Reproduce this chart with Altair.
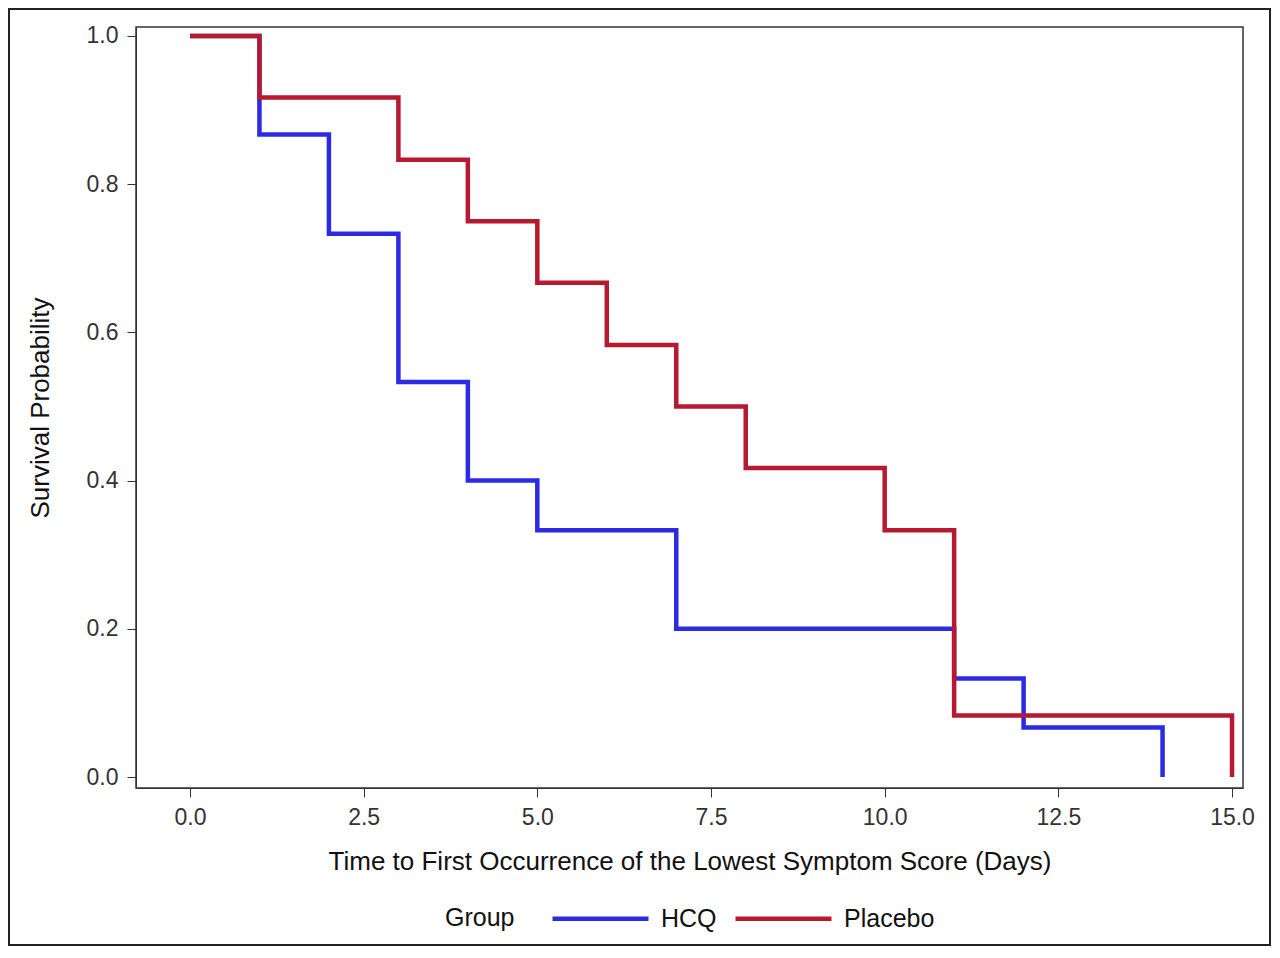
import altair as alt
import pandas as pd

# Kaplan-Meier step data
hcq_time = [0, 1, 2, 3, 4, 5, 7, 11, 12, 14]
hcq_surv = [1.0, 0.867, 0.733, 0.533, 0.4, 0.333, 0.2, 0.133, 0.067, 0.0]
pla_time = [0, 1, 3, 4, 5, 6, 7, 8, 10, 11, 15]
pla_surv = [1.0, 0.917, 0.833, 0.75, 0.667, 0.583, 0.5, 0.417, 0.333, 0.083, 0.0]
groups = ["HCQ", "Placebo"]
colors = ["#2B2BE3", "#B71A2E"]
x_ticks = [0, 2.5, 5, 7.5, 10, 12.5, 15]
y_ticks = [0, 0.2, 0.4, 0.6, 0.8, 1.0]

rows = [{"t": t, "s": s, "Group": "HCQ", "o": i} for i, (t, s) in enumerate(zip(hcq_time, hcq_surv))]
rows += [{"t": t, "s": s, "Group": "Placebo", "o": i} for i, (t, s) in enumerate(zip(pla_time, pla_surv))]
df = pd.DataFrame(rows)

W, H = 1107, 761
PL, PT, PR, PB = 128, 19, 28, 158
FONT = "Liberation Sans"

lines = alt.Chart(df).mark_line(
    interpolate="step-after", strokeWidth=4.5, strokeCap="butt", strokeJoin="miter"
).encode(
    x=alt.X("t:Q", scale=alt.Scale(domain=[-0.777, 15.158], nice=False, zero=False),
            axis=alt.Axis(values=x_ticks, format=".1f",
                          title="Time to First Occurrence of the Lowest Symptom Score (Days)")),
    y=alt.Y("s:Q", scale=alt.Scale(domain=[-0.0148, 1.012], nice=False, zero=False),
            axis=alt.Axis(values=y_ticks, format=".1f", title="Survival Probability")),
    color=alt.Color("Group:N", scale=alt.Scale(domain=groups, range=colors),
                    legend=alt.Legend(orient="none", legendX=309, legendY=841,
                                      direction="horizontal", titleOrient="left",
                                      titleAnchor="middle", titleBaseline="line-top",
                                      titleLineHeight=38,
                                      symbolType="stroke", symbolSize=9216,
                                      symbolStrokeWidth=4.5, columnPadding=9,
                                      labelOffset=10)),
    order="o:Q",
)

frame = alt.Chart(pd.DataFrame({"a": [0]})).mark_rect(
    fill=None, stroke="#222222", strokeWidth=2, clip=False
).encode(
    x=alt.value(-PL + 1), x2=alt.value(W + PR - 1),
    y=alt.value(-PT + 1), y2=alt.value(H + PB - 1),
)

chart = alt.layer(lines, frame).properties(
    width=W, height=H,
    autosize=alt.AutoSizeParams(type="none"),
    padding={"left": PL, "top": PT, "right": PR, "bottom": PB},
).configure_view(
    stroke="#333333", strokeWidth=1.5
).configure_axis(
    grid=False, domainColor="#333333", tickColor="#333333", tickSize=9,
    labelFont=FONT, titleFont=FONT, labelFontSize=23, titleFontSize=26,
    labelColor="#333333", titleColor="#111111", titleFontWeight="normal",
    labelPadding=9,
).configure_axisX(
    titlePadding=19,
).configure_axisY(
    titlePadding=33,
).configure_legend(
    labelFont=FONT, titleFont=FONT, labelFontSize=25, titleFontSize=25,
    titleFontWeight="normal", labelColor="#111111", titleColor="#111111",
    titlePadding=35,
)

chart.save("out.html", embed_options={"renderer": "svg", "actions": False})
